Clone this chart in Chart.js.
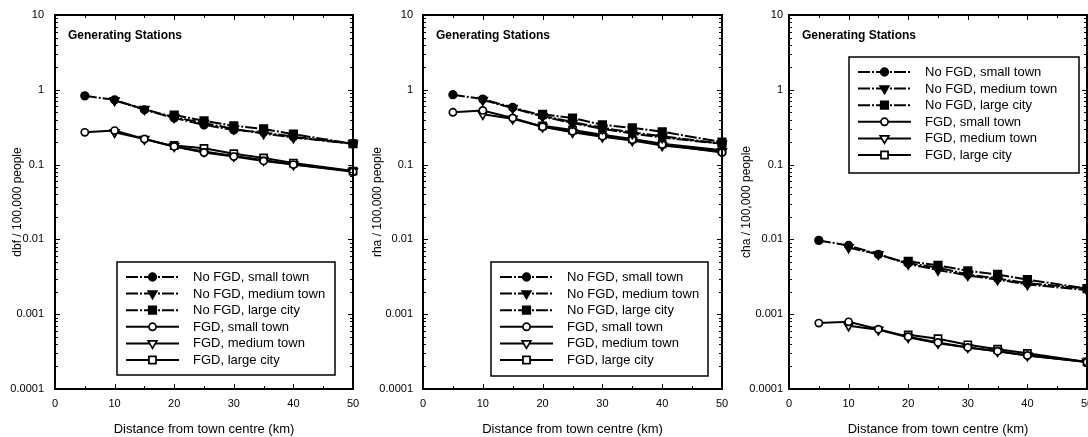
<!DOCTYPE html>
<html><head><meta charset="utf-8">
<script src="https://cdn.jsdelivr.net/npm/chart.js@4/dist/chart.umd.min.js"></script>
<style>
html,body{margin:0;padding:0;background:#fff;overflow:hidden;width:1088px;height:437px;}
.p{position:absolute;top:0;height:437px;}
</style></head><body>
<div class="p" style="left:0px;width:362px"><canvas id="c1" width="362" height="437"></canvas></div>
<div class="p" style="left:362px;width:370px"><canvas id="c2" width="370" height="437"></canvas></div>
<div class="p" style="left:730px;width:370px"><canvas id="c3" width="370" height="437"></canvas></div>
<script>
// ---------- DATA ----------
const distSmall  = [5, 10, 15, 20, 25, 30, 35, 40, 50];
const distMedium = [10, 15, 20, 25, 30, 35, 40, 50];
const distLarge  = [20, 25, 30, 35, 40, 50];

const seriesLabels = ['No FGD, small town','No FGD, medium town','No FGD, large city',
                      'FGD, small town','FGD, medium town','FGD, large city'];

const dbfNoFgdSmall  = [0.83, 0.735, 0.54, 0.42, 0.34, 0.29, 0.27, 0.235, 0.19];
const dbfNoFgdMedium = [0.72, 0.55, 0.43, 0.36, 0.30, 0.26, 0.23, 0.19];
const dbfNoFgdLarge  = [0.46, 0.385, 0.33, 0.30, 0.255, 0.19];
const dbfFgdSmall    = [0.27, 0.285, 0.22, 0.175, 0.145, 0.128, 0.112, 0.10, 0.08];
const dbfFgdMedium   = [0.27, 0.22, 0.175, 0.15, 0.13, 0.115, 0.10, 0.082];
const dbfFgdLarge    = [0.18, 0.165, 0.14, 0.123, 0.105, 0.082];

const rhaNoFgdSmall  = [0.86, 0.75, 0.58, 0.45, 0.37, 0.31, 0.27, 0.24, 0.19];
const rhaNoFgdMedium = [0.73, 0.57, 0.44, 0.36, 0.30, 0.26, 0.23, 0.19];
const rhaNoFgdLarge  = [0.47, 0.42, 0.34, 0.31, 0.275, 0.20];
const rhaFgdSmall    = [0.50, 0.53, 0.42, 0.32, 0.28, 0.24, 0.215, 0.185, 0.145];
const rhaFgdMedium   = [0.47, 0.41, 0.32, 0.27, 0.235, 0.21, 0.18, 0.15];
const rhaFgdLarge    = [0.33, 0.29, 0.25, 0.22, 0.19, 0.155];

const chaNoFgdSmall  = [0.0097, 0.0083, 0.0063, 0.0048, 0.0042, 0.0034, 0.0030, 0.0026, 0.0022];
const chaNoFgdMedium = [0.0078, 0.0063, 0.0047, 0.0039, 0.0033, 0.0029, 0.0025, 0.0021];
const chaNoFgdLarge  = [0.0051, 0.0045, 0.0038, 0.0034, 0.0029, 0.0022];
const chaFgdSmall    = [0.00076, 0.00079, 0.00063, 0.00050, 0.00042, 0.00036, 0.00032, 0.00028, 0.00023];
const chaFgdMedium   = [0.00070, 0.00062, 0.00049, 0.00041, 0.00036, 0.00032, 0.00028, 0.00023];
const chaFgdLarge    = [0.00053, 0.00047, 0.00039, 0.00034, 0.00030, 0.00023];

const yTickValues = [0.0001, 0.001, 0.01, 0.1, 1, 10];
const yTickLabels = ['0.0001', '0.001', '0.01', '0.1', '1', '10'];
const xTickValues = [0, 10, 20, 30, 40, 50];
const xTickLabels = ['0', '10', '20', '30', '40', '50'];

const yTitles = ['dbf / 100,000 people', 'rha / 100,000 people', 'cha / 100,000 people'];
const xTitle = 'Distance from town centre (km)';
const panelTitle = 'Generating Stations';

// ---------- STYLE ----------
const FONT = "'Liberation Sans', Arial, sans-serif";
const shapes = ['circle', 'triangle', 'rect', 'circle', 'triangle', 'rect'];
const rotations = [0, 180, 0, 0, 180, 0];
const radii = [3.8, 5, 5.3, 3.6, 5, 5];
const dashNoFgd = [12, 2, 2, 2];

function pts(xs, ys) { return xs.map((x, i) => ({x: x, y: ys[i]})); }

function makeDatasets(vals) {
  const xs = [distSmall, distMedium, distLarge, distSmall, distMedium, distLarge];
  return vals.map((ys, i) => ({
    label: seriesLabels[i],
    data: pts(xs[i], ys),
    borderColor: '#000',
    borderWidth: 2,
    borderDash: i < 3 ? dashNoFgd : [],
    backgroundColor: i < 3 ? '#000' : '#fff',
    pointBackgroundColor: i < 3 ? '#000' : '#fff',
    pointBorderColor: '#000',
    pointBorderWidth: 1.7,
    pointStyle: shapes[i],
    pointRotation: rotations[i],
    pointRadius: radii[i],
    tension: 0,
    fill: false,
    clip: false
  }));
}

function drawMarker(ctx, style, rot, r, x, y, filled) {
  ctx.save();
  ctx.setLineDash([]);
  ctx.lineWidth = 1.7;
  ctx.fillStyle = filled ? '#000' : '#fff';
  ctx.strokeStyle = '#000';
  ctx.beginPath();
  if (style === 'circle') {
    ctx.arc(x, y, r, 0, Math.PI * 2);
  } else if (style === 'rect') {
    const s = r * Math.SQRT1_2;
    ctx.rect(x - s, y - s, 2 * s, 2 * s);
  } else {
    const rad = rot * Math.PI / 180;
    for (let k = 0; k < 3; k++) {
      const a = rad - Math.PI / 2 + k * 2 * Math.PI / 3;
      const px = x + r * Math.cos(a), py = y + r * Math.sin(a);
      if (k === 0) ctx.moveTo(px, py); else ctx.lineTo(px, py);
    }
    ctx.closePath();
  }
  ctx.fill();
  ctx.stroke();
  ctx.restore();
}

const framePlugin = {
  id: 'frame',
  afterDraw(chart, args, opts) {
    const {ctx, chartArea: a, scales} = chart;
    const xs = scales.x, ys = scales.y;
    ctx.save();
    ctx.strokeStyle = '#000';
    ctx.setLineDash([]);
    ctx.lineWidth = 1;
    ys.ticks.forEach(t => {
      const py = Math.round(ys.getPixelForValue(t.value)) + 0.5;
      const lg = Math.log10(t.value);
      const major = Math.abs(lg - Math.round(lg)) < 1e-6;
      const len = major ? 5 : 3;
      ctx.beginPath();
      ctx.moveTo(a.left, py); ctx.lineTo(a.left + len, py);
      ctx.moveTo(a.right, py); ctx.lineTo(a.right - len, py);
      ctx.stroke();
    });
    xs.ticks.forEach(t => {
      const px = Math.round(xs.getPixelForValue(t.value)) + 0.5;
      const major = t.value % 10 === 0;
      const len = major ? 5 : 3;
      ctx.beginPath();
      ctx.moveTo(px, a.bottom); ctx.lineTo(px, a.bottom - len);
      ctx.moveTo(px, a.top); ctx.lineTo(px, a.top + len);
      ctx.stroke();
    });
    ctx.lineWidth = 2;
    ctx.strokeRect(a.left, a.top, a.right - a.left, a.bottom - a.top);

    // panel title
    ctx.fillStyle = '#000';
    ctx.font = 'bold 12px ' + FONT;
    ctx.textBaseline = 'middle';
    ctx.textAlign = 'left';
    ctx.fillText(panelTitle, a.left + 13, a.top + 21);

    // legend box
    const L = opts;
    const bx = L.fromRight ? a.right - L.right - L.w : a.left + L.left;
    const by = L.fromTop ? a.top + L.top : a.bottom - L.bottom - L.h;
    ctx.fillStyle = '#fff';
    ctx.fillRect(bx, by, L.w, L.h);
    ctx.lineWidth = 1.5;
    ctx.strokeStyle = '#000';
    ctx.strokeRect(bx, by, L.w, L.h);
    ctx.font = '13px ' + FONT;
    chart.data.datasets.forEach((ds, i) => {
      const ry = by + 15 + i * 16.6;
      ctx.save();
      ctx.lineWidth = 2;
      ctx.setLineDash(ds.borderDash || []);
      ctx.beginPath();
      ctx.moveTo(bx + 9, ry); ctx.lineTo(bx + 62, ry);
      ctx.stroke();
      ctx.restore();
      drawMarker(ctx, ds.pointStyle, ds.pointRotation, ds.pointRadius, bx + 35.5, ry, i < 3);
      ctx.fillStyle = '#000';
      ctx.textAlign = 'left';
      ctx.textBaseline = 'middle';
      ctx.fillText(ds.label, bx + 76, ry + 0.5);
    });
    ctx.restore();
  }
};

function makeChart(id, vals, yTitle, cfg) {
  return new Chart(document.getElementById(id), {
    type: 'line',
    data: { datasets: makeDatasets(vals) },
    plugins: [framePlugin],
    options: {
      responsive: false,
      animation: false,
      events: [],
      layout: { padding: { left: 0, right: cfg.padRight, top: 15, bottom: 0 } },
      plugins: {
        legend: { display: false },
        tooltip: { enabled: false },
        frame: cfg.legend
      },
      scales: {
        x: {
          type: 'linear', min: 0, max: 50,
          grid: { display: false, drawTicks: false },
          border: { display: false },
          ticks: {
            stepSize: 5, autoSkip: false, maxRotation: 0, padding: 8,
            color: '#000', font: { family: FONT, size: 11 },
            callback: v => { const k = xTickValues.indexOf(v); return k >= 0 ? xTickLabels[k] : ''; }
          },
          title: { display: true, text: xTitle, color: '#000', font: { family: FONT, size: 13 }, padding: { top: 0, bottom: 0 } },
          afterFit: s => { s.height = 48; s.paddingLeft = 0; s.paddingRight = 0; }
        },
        y: {
          type: 'logarithmic', min: 0.0001, max: 10,
          grid: { display: false, drawTicks: false },
          border: { display: false },
          afterBuildTicks: s => {
            const t = [];
            for (let e = -4; e <= 1; e++) {
              for (let m = 1; m <= 9; m++) {
                const v = m * Math.pow(10, e);
                if (v <= 10.0000001) t.push({ value: v });
              }
            }
            s.ticks = t;
          },
          ticks: {
            autoSkip: false, padding: cfg.yPad,
            color: '#000', font: { family: FONT, size: 11 },
            callback: v => {
              const k = yTickValues.findIndex(tv => Math.abs(tv - v) / tv < 1e-6);
              return k >= 0 ? yTickLabels[k] : '';
            }
          },
          title: { display: true, text: yTitle, color: '#000', font: { family: FONT, size: 12 }, padding: { top: cfg.yTitlePad, bottom: 0 } },
          afterFit: s => { s.width = cfg.yWidth; s.paddingTop = 0; s.paddingBottom = 0; }
        }
      }
    }
  });
}

makeChart('c1',
  [dbfNoFgdSmall, dbfNoFgdMedium, dbfNoFgdLarge, dbfFgdSmall, dbfFgdMedium, dbfFgdLarge],
  yTitles[0],
  { padRight: 9, yWidth: 55, yPad: 11, yTitlePad: 10,
    legend: { fromRight: true, right: 18, w: 218, fromTop: false, bottom: 14, h: 113 } });

makeChart('c2',
  [rhaNoFgdSmall, rhaNoFgdMedium, rhaNoFgdLarge, rhaFgdSmall, rhaFgdMedium, rhaFgdLarge],
  yTitles[1],
  { padRight: 10, yWidth: 61, yPad: 10, yTitlePad: 8,
    legend: { fromRight: true, right: 14, w: 217, fromTop: false, bottom: 13, h: 114 } });

makeChart('c3',
  [chaNoFgdSmall, chaNoFgdMedium, chaNoFgdLarge, chaFgdSmall, chaFgdMedium, chaFgdLarge],
  yTitles[2],
  { padRight: 13, yWidth: 59, yPad: 6, yTitlePad: 9,
    legend: { fromRight: true, right: 8, w: 230, fromTop: true, top: 42, h: 116 } });
</script>
</body></html>
